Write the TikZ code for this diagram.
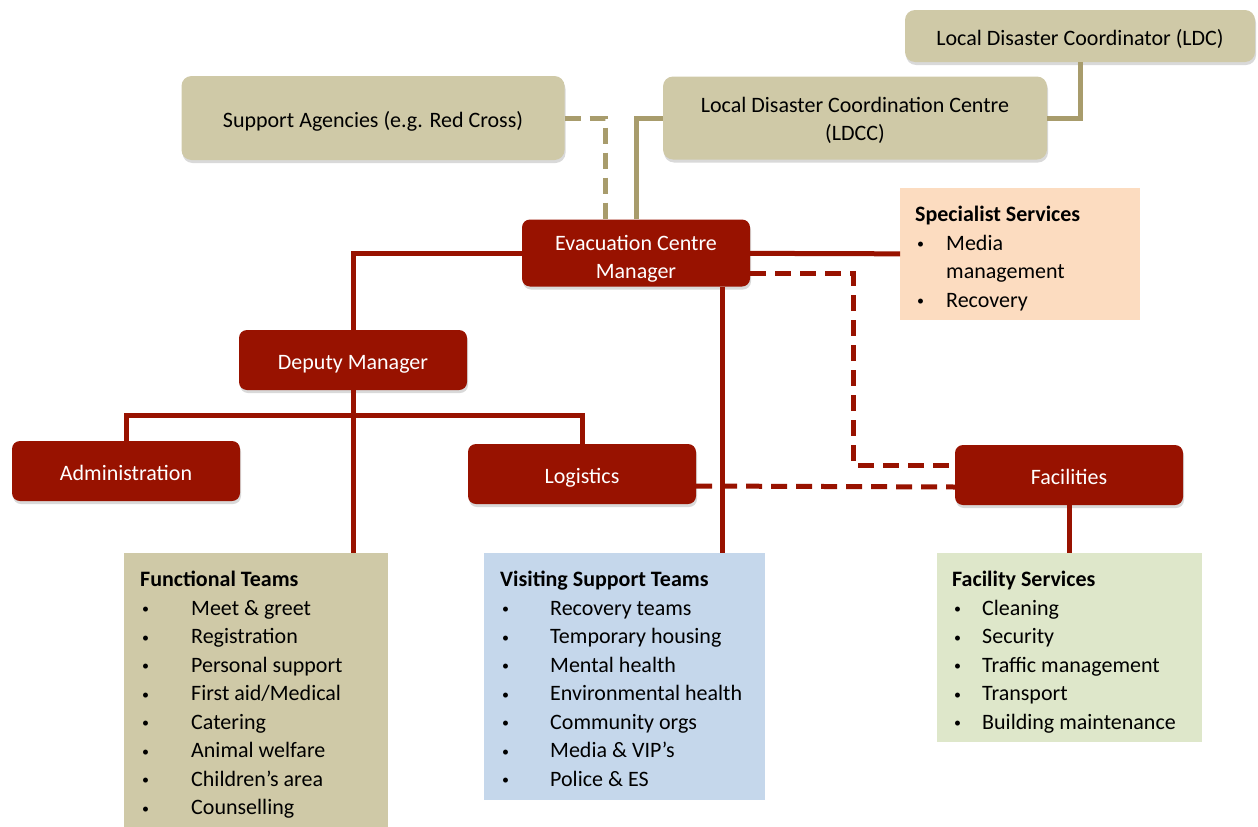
\documentclass[tikz,border=0pt]{standalone}
\usepackage{fontspec}
\setmainfont{Carlito}
\usetikzlibrary{shadows}
\definecolor{evred}{RGB}{152,18,0}
\definecolor{boxtan}{RGB}{207,201,167}
\definecolor{linetan}{RGB}{168,156,108}
\definecolor{peach}{RGB}{252,220,192}
\definecolor{paleblue}{RGB}{197,215,235}
\definecolor{palegreen}{RGB}{222,231,202}
\newcommand{\bul}[2]{\\\makebox[#1][l]{\hspace{2pt}\raisebox{1.5pt}{\fontsize{14}{14}\selectfont\textbullet}}#2}
\newcommand{\twolines}[3]{\raisebox{#1}[\height][\depth]{\begin{tabular}{@{}c@{}}#2\\#3\end{tabular}}}
\begin{document}
\begin{tikzpicture}[x=1pt,y=-1pt,
		font=\fontsize{22}{28.5}\selectfont,
		softshadow/.style={drop shadow={shadow xshift=1pt,shadow yshift=-3pt,opacity=.3}},
		tanbox/.style={fill=boxtan,rounded corners=10pt,text height=19pt,text depth=0pt,softshadow},
		redbox/.style={fill=evred,text=white,rounded corners=8pt,minimum width=228,minimum height=60,
			text height=19pt,text depth=0pt,softshadow},
		listbox/.style={anchor=north west,inner xsep=15pt,inner ysep=18pt},
		tanline/.style={draw=linetan,line width=5pt},
		redline/.style={draw=evred,line width=5pt},
		reddash/.style={redline,dash pattern=on 16pt off 9pt}]
	\useasboundingbox (0,0) rectangle (1258,827);
	\node[tanbox,minimum width=350,minimum height=52] (ldc)     at (1080, 36)  {Local Disaster Coordinator (LDC)};
	\node[tanbox,minimum width=384,minimum height=83,text height=,text depth=] (ldcc) at (855, 118)
		{\twolines{-3pt}{Local Disaster Coordination Centre}{(LDCC)}};
	\node[tanbox,minimum width=383,minimum height=84] (support) at (373 , 118) {Support Agencies (e.g. Red Cross)};
	\node[redbox,minimum height=67,text height=,text depth=] (ecm) at (636, 253)
		{\twolines{-6pt}{Evacuation Centre}{Manager}};
	\node[redbox]                   (deputy)    at (353 , 360) {Deputy Manager};
	\node[redbox]                   (admin)     at (126 , 471) {Administration};
	\node[redbox]                   (logistics) at (582 , 474) {Logistics};
	\node[redbox]                   (fac)       at (1069, 475) {Facilities};
	
	\node[listbox,fill=peach] (spec) at (900,188) {\parbox[t][96pt][t]{210pt}{%
		\textbf{Specialist Services}\bul{31pt}{Media}\\\hspace*{31pt}management\bul{31pt}{Recovery}}};
	\node[listbox,fill=boxtan,inner xsep=16pt] (functional) at (124,553) {\parbox[t][244pt][t]{232pt}{%
		\textbf{Functional Teams}\bul{51pt}{Meet \& greet}\bul{51pt}{Registration}\bul{51pt}{Personal support}%
		\bul{51pt}{First aid/Medical}\bul{51pt}{Catering}\bul{51pt}{Animal welfare}\bul{51pt}{Children’s area}%
		\bul{51pt}{Counselling}}};
	\node[listbox,fill=paleblue,inner xsep=16pt] (visiting) at (484,553) {\parbox[t][211pt][t]{249pt}{%
		\textbf{Visiting Support Teams}\bul{50pt}{Recovery teams}\bul{50pt}{Temporary housing}\bul{50pt}{Mental health}%
		\bul{50pt}{Environmental health}\bul{50pt}{Community orgs}\bul{50pt}{Media \& VIP’s}\bul{50pt}{Police \& ES}}};
	\node[listbox,fill=palegreen] (facsrv) at (937,553) {\parbox[t][153pt][t]{235pt}{%
		\textbf{Facility Services}\bul{30pt}{Cleaning}\bul{30pt}{Security}\bul{30pt}{Traffic management}%
		\bul{30pt}{Transport}\bul{30pt}{Building maintenance}}};
	
	% tan links to the coordination centre
	\draw[tanline] (ldc) |- (ldcc);
	\draw[tanline] (ldcc) -| (ecm);
	\draw[tanline,dash pattern=on 16pt off 9pt] (support) -| ([xshift=-31pt]ecm.north);
	
	% red links of the centre
	\draw[redline] (ecm) -| (deputy);
	\draw[redline] (ecm) -- (spec);
	\foreach \v in {admin, logistics}
	{	\draw[redline] (deputy.south) -- ++(0,25) -| (\v);
	}
	\draw[redline] (deputy.south) -- (deputy.south |- functional.north);
	\draw[redline] ([xshift=86pt]ecm.south) -- ([xshift=86pt]ecm.south |- visiting.north);
	\draw[redline] (fac.south) -- (fac.south |- facsrv.north);
	\draw[reddash] ([yshift=-20pt]ecm.east) -- ++(103,0) |- ([yshift=10pt]fac.west);
	\draw[reddash] ([yshift=-12pt]logistics.east) -- ([yshift=-12pt]fac.west);
\end{tikzpicture}
\end{document}
